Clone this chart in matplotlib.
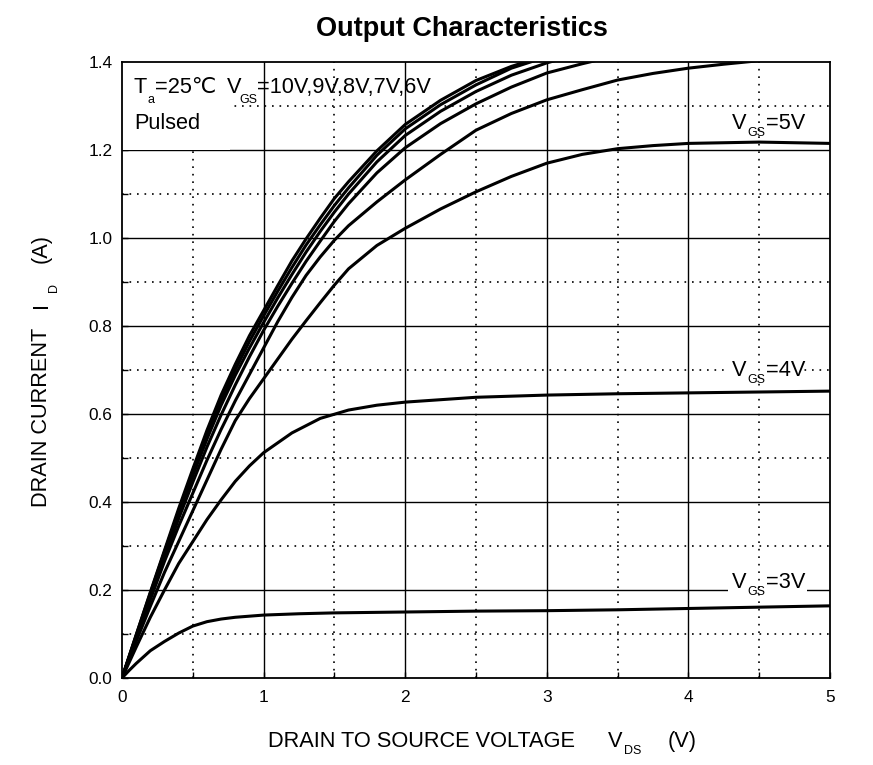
import matplotlib
matplotlib.use("Agg")
import matplotlib.pyplot as plt
from matplotlib.patches import Rectangle

plt.rcParams['font.family'] = ['Liberation Sans', 'DejaVu Sans']

# VDS grids (V)
vds_hi = [0, 0.1, 0.2, 0.3, 0.4, 0.5, 0.6, 0.7, 0.8, 0.9, 1.0, 1.1, 1.2, 1.3, 1.4,
          1.5, 1.6, 1.8, 2.0, 2.25, 2.5, 2.75, 3.0, 3.25, 3.5]
vds_mid = [0, 0.1, 0.2, 0.3, 0.4, 0.5, 0.6, 0.7, 0.8, 0.9, 1.0, 1.1, 1.2, 1.3, 1.4,
           1.5, 1.6, 1.8, 2.0, 2.25, 2.5, 2.75, 3.0, 3.25, 3.5, 3.75, 4.0, 4.25, 4.5]
vds_5v = [0, 0.1, 0.2, 0.3, 0.4, 0.5, 0.6, 0.7, 0.8, 0.9, 1.0, 1.1, 1.2, 1.3, 1.4,
          1.5, 1.6, 1.8, 2.0, 2.25, 2.5, 2.75, 3.0, 3.25, 3.5, 3.75, 4.0, 4.5, 5.0]
vds_4v = [0, 0.1, 0.2, 0.3, 0.4, 0.5, 0.6, 0.7, 0.8, 0.9, 1.0, 1.2, 1.4, 1.6, 1.8,
          2.0, 2.5, 3.0, 3.5, 4.0, 4.5, 5.0]
vds_3v = [0, 0.05, 0.1, 0.2, 0.3, 0.4, 0.5, 0.6, 0.7, 0.8, 1.0, 1.25, 1.5, 2.0,
          2.5, 3.0, 3.5, 4.0, 4.5, 5.0]

# ID (A)
id_10v = [0, 0.098, 0.195, 0.29, 0.385, 0.475, 0.563, 0.643, 0.713, 0.778, 0.835,
          0.892, 0.948, 0.998, 1.045, 1.09, 1.128, 1.198, 1.258, 1.313, 1.358,
          1.39, 1.415]
id_9v = [0, 0.097, 0.193, 0.287, 0.378, 0.467, 0.553, 0.632, 0.701, 0.765, 0.823,
         0.879, 0.933, 0.984, 1.03, 1.074, 1.114, 1.188, 1.248, 1.303, 1.348,
         1.386, 1.412]
id_8v = [0, 0.095, 0.19, 0.283, 0.373, 0.46, 0.543, 0.62, 0.688, 0.75, 0.808,
         0.864, 0.917, 0.968, 1.015, 1.059, 1.1, 1.173, 1.233, 1.288, 1.333,
         1.37, 1.398, 1.42]
id_7v = [0, 0.093, 0.185, 0.275, 0.362, 0.445, 0.525, 0.598, 0.666, 0.73, 0.79,
         0.845, 0.897, 0.947, 0.993, 1.038, 1.078, 1.148, 1.205, 1.26, 1.305,
         1.343, 1.375, 1.396, 1.415]
id_6v = [0, 0.09, 0.178, 0.265, 0.345, 0.42, 0.495, 0.565, 0.63, 0.69, 0.75,
         0.81, 0.865, 0.915, 0.957, 0.995, 1.028, 1.082, 1.132, 1.19, 1.245,
         1.283, 1.314, 1.337, 1.359, 1.374, 1.386, 1.395, 1.403]
id_5v = [0, 0.083, 0.163, 0.24, 0.31, 0.38, 0.45, 0.52, 0.585, 0.635, 0.68,
         0.725, 0.77, 0.812, 0.853, 0.893, 0.93, 0.983, 1.022, 1.066, 1.105,
         1.14, 1.17, 1.19, 1.203, 1.21, 1.215, 1.218, 1.215]
id_4v = [0, 0.07, 0.138, 0.2, 0.26, 0.31, 0.36, 0.405, 0.447, 0.482, 0.512,
         0.557, 0.59, 0.609, 0.62, 0.627, 0.638, 0.643, 0.646, 0.648, 0.65, 0.652]
id_3v = [0, 0.017, 0.033, 0.062, 0.083, 0.102, 0.118, 0.128, 0.134, 0.138,
         0.143, 0.146, 0.148, 0.150, 0.152, 0.153, 0.155, 0.158, 0.161, 0.164]

curves = [
    (vds_hi[:23], id_10v), (vds_hi[:23], id_9v), (vds_hi[:24], id_8v),
    (vds_hi, id_7v), (vds_mid, id_6v), (vds_5v, id_5v),
    (vds_4v, id_4v), (vds_3v, id_3v),
]

x_major = [1, 2, 3, 4]
x_minor = [0.5, 1.5, 2.5, 3.5, 4.5]
y_major = [0.2, 0.4, 0.6, 0.8, 1.0, 1.2]
y_minor = [0.1, 0.3, 0.5, 0.7, 0.9, 1.1, 1.3]

W, H = 873, 765
fig = plt.figure(figsize=(W / 100, H / 100), dpi=100)
ax = fig.add_axes([122 / W, (H - 678) / H, (830 - 122) / W, (678 - 62) / H])

dots = (0, (1, 3.5))
for y in y_major:
    ax.axhline(y, color='black', lw=1.0, zorder=1)
for y in y_minor:
    ax.axhline(y, color='black', lw=1.2, ls=dots, zorder=1)
for x in x_major:
    ax.axvline(x, color='black', lw=1.0, zorder=2)
for x in x_minor:
    ax.axvline(x, color='black', lw=1.2, ls=dots, zorder=2)

# white patches behind labels
ax.add_patch(Rectangle((0, 1.2), 0.76, 0.2, fc='white', ec='none', zorder=2.5))
ax.add_patch(Rectangle((4.29, 0.665), 0.52, 0.06, fc='white', ec='none', zorder=1.5))
ax.add_patch(Rectangle((4.28, 0.18), 0.56, 0.06, fc='white', ec='none', zorder=1.5))

for v, i in curves:
    ax.plot(v, i, color='black', lw=2.2, zorder=3, solid_capstyle='round',
            solid_joinstyle='round')

ax.set_xlim(0, 5)
ax.set_ylim(0, 1.4)
ax.set_xticks([0, 1, 2, 3, 4, 5])
ax.set_xticklabels(['0', '1', '2', '3', '4', '5'])
ax.set_xticks(x_minor, minor=True)
ax.set_yticks([0, 0.2, 0.4, 0.6, 0.8, 1.0, 1.2, 1.4])
ax.set_yticklabels(['0.0', '0.2', '0.4', '0.6', '0.8', '1.0', '1.2', '1.4'])
ax.set_yticks(y_minor, minor=True)
ax.tick_params(which='both', direction='in', color='black', width=1.0)
ax.tick_params(which='major', length=4, labelsize=12.4)
ax.tick_params(which='minor', length=4)
ax.tick_params(axis='x', pad=9)
ax.tick_params(axis='y', pad=7)
for sp in ax.spines.values():
    sp.set_linewidth(1.3)
    sp.set_zorder(4)


def put(x, y, s, size=15.7, **kw):
    fig.text(x / W, 1 - y / H, s, fontsize=size, ha='left', va='baseline', **kw)


fig.text(462 / W, 1 - 36 / H, 'Output Characteristics', fontsize=19.5,
         fontweight='bold', ha='center', va='baseline')

# condition text
put(134, 93, 'T')
put(147, 103, 'a', 9)
put(155, 93, '=25℃')
put(227, 93, 'V')
put(239, 103, 'GS', 9)
put(257, 93, '=10V,9V,8V,7V,6V')
put(134, 129, 'Pulsed')

# curve labels
for yb, txt in [(129, '=5V'), (376, '=4V'), (588, '=3V')]:
    put(732, yb, 'V')
    put(747, yb + 7, 'GS', 9)
    put(766, yb, txt)

# x label
put(268, 747, 'DRAIN TO SOURCE VOLTAGE')
put(608, 747, 'V')
put(624, 754, 'DS', 9)
put(668, 747, '(V)')

# y label
rot = dict(rotation=90, rotation_mode='anchor')
put(47, 507, 'DRAIN CURRENT', **rot)
put(47, 308, 'I', **rot)
put(57, 292, 'D', 9, **rot)
put(47, 263, '(A)', **rot)

fig.savefig('out.png', dpi=100)
